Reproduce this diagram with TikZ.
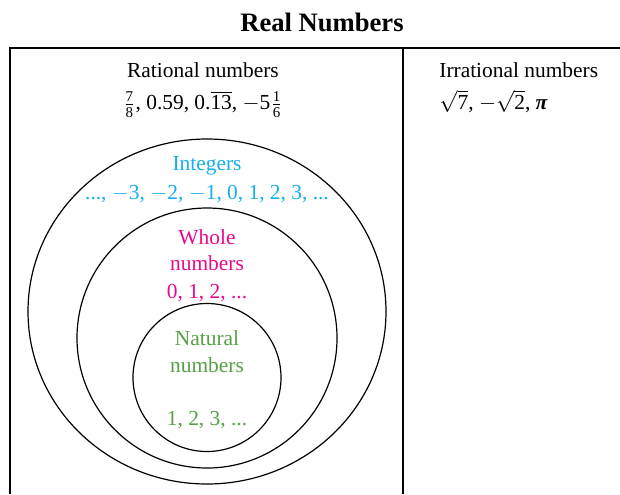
\documentclass[tikz,border=0pt]{standalone}
\usepackage{amsmath}
\usepackage{fontspec}
\setmainfont{Liberation Serif}
\definecolor{intcyan}{RGB}{20,175,235}
\definecolor{wholemag}{RGB}{232,10,140}
\definecolor{natgreen}{RGB}{85,160,70}
\tikzset{
  txt/.style={anchor=base,inner sep=0pt},
  twoline/.style={inner sep=0pt,font=\fontsize{10.7}{16}\selectfont},
  setline/.style={black,line width=0.6pt}
}
\begin{document}
\begin{tikzpicture}[x=0.5pt,y=-0.5pt,font=\fontsize{10.7}{13}\selectfont]
\useasboundingbox (0,0) rectangle (620,494);
% title and frame
\node[txt,font=\fontsize{13.3}{16}\selectfont\bfseries] (title) at (322,31) {Real Numbers};
\draw[setline] (10,494)--(10,48)--(620,48);
\draw[setline] (403,48)--(403,494);
% rational side
\node[twoline,anchor=north,align=center] (rat) at (203,62.5)
  {Rational numbers\\ $\frac{\text{7}}{\text{8}}$, 0.59, 0.$\overline{\text{13}}$, $-$5$\frac{\text{1}}{\text{6}}$};
% irrational side
\node[twoline,anchor=north west,align=left] (irr) at (439,62.5)
  {Irrational numbers\\ $\sqrt{\text{7}}$, $-\sqrt{\text{2}}$, \textbf{\textit{π}}};
% nested sets
\draw[setline] (207,311.5) ellipse [x radius=89.5pt, y radius=86.25pt];
\draw[setline] (207,338) circle [radius=65pt];
\draw[setline] (207,377.5) circle [radius=37pt];
\node[txt,intcyan] (int) at (207,170) {Integers};
\node[txt,intcyan] (intex) at (207,199) {..., $-$3, $-$2, $-$1, 0, 1, 2, 3, ...};
\node[txt,wholemag] (whole) at (207,244) {Whole};
\node[txt,wholemag] (whole2) at (207,270) {numbers};
\node[txt,wholemag] (wholeex) at (207,298) {0, 1, 2, ...};
\node[txt,natgreen] (nat) at (207,345) {Natural};
\node[txt,natgreen] (nat2) at (207,372) {numbers};
\node[txt,natgreen] (natex) at (207,425) {1, 2, 3, ...};
\end{tikzpicture}
\end{document}
